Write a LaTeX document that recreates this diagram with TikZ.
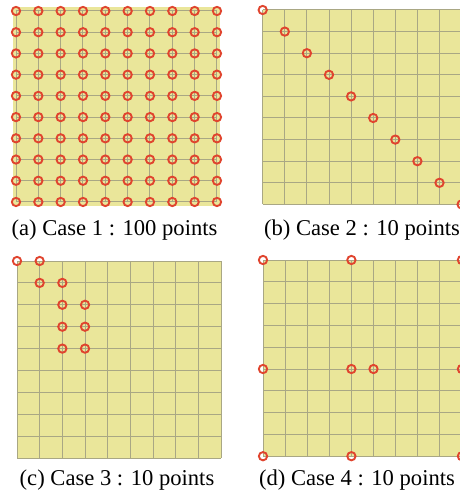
\documentclass[tikz,border=0pt]{standalone}
\usepackage{fontspec}
\setmainfont{Liberation Serif}
\definecolor{padfill}{HTML}{EAE69A}
\definecolor{gridline}{HTML}{A9A784}
\definecolor{ptred}{HTML}{E0442E}
\begin{document}
\begin{tikzpicture}[x=1bp,y=-1bp,
  pt/.style={circle,draw=ptred,line width=1.9bp,minimum size=8.3bp,inner sep=0pt},
  gridl/.style={draw=gridline,line width=1bp},
  pad/.style={fill=padfill},
  captext/.style={font=\fontsize{22.6bp}{25bp}\selectfont,inner sep=0pt,anchor=base}]
\useasboundingbox (0,0) rectangle (460,494);
% panel (a)
\begin{scope}[shift={(16,11)},x=22.33bp,y=-21.22bp]
  \fill[pad] (-0.14,-0.19) rectangle (9.14,9.19);
  \foreach \k in {0,...,9}{
    \draw[gridl] (\k,0) -- (\k,9);
    \draw[gridl] (0,\k) -- (9,\k);}
  \foreach \i in {0,...,9}{\foreach \j in {0,...,9}{
    \node[pt] (a\i-\j) at (\i,\j) {};}}
\end{scope}
% panel (b)
\begin{scope}[shift={(262.7,10)},x=22.1bp,y=-21.6bp]
  \fill[pad] (0,0) rectangle (9,9);
  \foreach \k in {0,...,9}{
    \draw[gridl] (\k,0) -- (\k,9);
    \draw[gridl] (0,\k) -- (9,\k);}
  \foreach \i in {0,...,9}{
    \node[pt] (b\i) at (\i,\i) {};}
\end{scope}
% panel (c)
\begin{scope}[shift={(17,261)},x=22.67bp,y=-21.9bp]
  \fill[pad] (0,0) rectangle (9,9);
  \foreach \k in {0,...,9}{
    \draw[gridl] (\k,0) -- (\k,9);
    \draw[gridl] (0,\k) -- (9,\k);}
  \foreach \i/\j [count=\n] in {0/0,1/0,1/1,2/1,2/2,3/2,2/3,3/3,2/4,3/4}{
    \node[pt] (c\n) at (\i,\j) {};}
\end{scope}
% panel (d)
\begin{scope}[shift={(263,260)},x=22.1bp,y=-21.8bp]
  \fill[pad] (0,0) rectangle (9,9);
  \foreach \k in {0,...,9}{
    \draw[gridl] (\k,0) -- (\k,9);
    \draw[gridl] (0,\k) -- (9,\k);}
  \foreach \i/\j [count=\n] in {0/0,4/0,9/0,0/5,4/5,5/5,9/5,0/9,4/9,9/9}{
    \node[pt] (d\n) at (\i,\j) {};}
\end{scope}
% captions
\node[captext] (capa) at (114.5,235) {(a) Case 1 : 100 points};
\node[captext] (capb) at (362,235) {(b) Case 2 : 10 points};
\node[captext] (capc) at (117,485) {(c) Case 3 : 10 points};
\node[captext] (capd) at (357,485) {(d) Case 4 : 10 points};
\end{tikzpicture}
\end{document}
